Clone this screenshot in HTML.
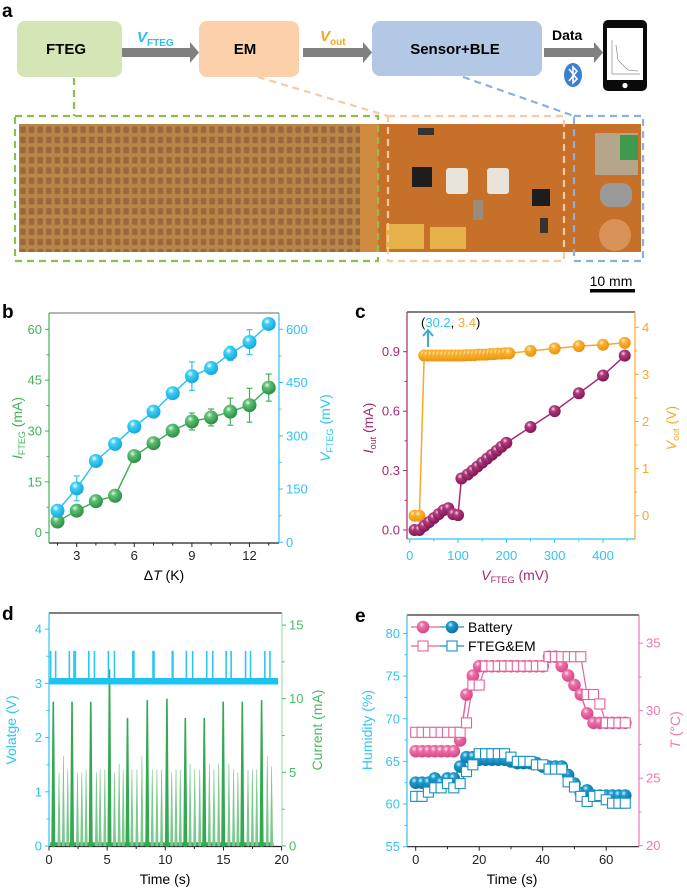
<!DOCTYPE html>
<html><head><meta charset="utf-8"><style>
html,body{margin:0;padding:0;background:#fff;}
svg{display:block;font-family:"Liberation Sans",Arial,sans-serif;}
</style></head><body>
<svg id="fig" width="687" height="892" viewBox="0 0 687 892">
<defs>
<radialGradient id="gGreen" cx="0.38" cy="0.32" r="0.7"><stop offset="0" stop-color="#e8f7ec"/><stop offset="0.3" stop-color="#5cc173"/><stop offset="1" stop-color="#2a8a42"/></radialGradient>
<radialGradient id="gCyan" cx="0.38" cy="0.32" r="0.7"><stop offset="0" stop-color="#ffffff"/><stop offset="0.3" stop-color="#3fd0f7"/><stop offset="1" stop-color="#12a6d8"/></radialGradient>
<radialGradient id="gPurple" cx="0.38" cy="0.32" r="0.7"><stop offset="0" stop-color="#f6d8e8"/><stop offset="0.3" stop-color="#b13a7d"/><stop offset="1" stop-color="#7e1650"/></radialGradient>
<radialGradient id="gOrange" cx="0.38" cy="0.32" r="0.7"><stop offset="0" stop-color="#fff3d6"/><stop offset="0.3" stop-color="#fbb232"/><stop offset="1" stop-color="#e8920c"/></radialGradient>
<radialGradient id="gPink" cx="0.38" cy="0.32" r="0.7"><stop offset="0" stop-color="#ffe6f1"/><stop offset="0.3" stop-color="#ee70a8"/><stop offset="1" stop-color="#d44485"/></radialGradient>
<radialGradient id="gBlue" cx="0.38" cy="0.32" r="0.7"><stop offset="0" stop-color="#d9f2fc"/><stop offset="0.3" stop-color="#1e9ccf"/><stop offset="1" stop-color="#0b6f9c"/></radialGradient>
<pattern id="cellPat" x="19" y="125" width="8.6" height="10.2" patternUnits="userSpaceOnUse">
<rect x="0" y="0" width="8.6" height="10.2" fill="#b8854a"/>
<rect x="1.2" y="1.5" width="5.5" height="6.5" rx="1" fill="#93603a"/>
</pattern>
</defs>

<g>
<text x="2" y="17" font-size="19" font-weight="bold">a</text>
<rect x="17" y="21" width="105" height="56" rx="8" fill="#d6e5b6"/>
<text x="66" y="54" font-size="15" font-weight="bold" text-anchor="middle">FTEG</text>
<rect x="199" y="21" width="100" height="56" rx="8" fill="#fcd0ab"/>
<text x="245" y="54" font-size="15" font-weight="bold" text-anchor="middle">EM</text>
<rect x="372" y="21" width="170" height="55" rx="8" fill="#b3c8e5"/>
<text x="455" y="54" font-size="15" font-weight="bold" text-anchor="middle">Sensor+BLE</text>
<g fill="#808080">
<rect x="122" y="48" width="70" height="9"/><polygon points="190,42 199,52.5 190,63"/>
<rect x="303" y="48" width="62" height="9"/><polygon points="363,42 372,52.5 363,63"/>
<rect x="544" y="48" width="52" height="9"/><polygon points="594,42 603,52.5 594,63"/>
</g>
<text x="137" y="42" font-size="15" font-style="italic" font-weight="bold" fill="#33bde9">V<tspan font-size="10" font-style="normal" dy="4">FTEG</tspan></text>
<text x="320" y="41" font-size="15" font-style="italic" font-weight="bold" fill="#f5a623">V<tspan font-size="10" font-style="normal" dy="4">out</tspan></text>
<text x="552" y="40" font-size="14" font-weight="bold">Data</text>
<ellipse cx="573" cy="75" rx="9" ry="12" fill="#3b7fd0"/>
<path d="M569,69 L577,79 L573,83 L573,67 L577,71 L569,81" stroke="#fff" stroke-width="1.6" fill="none"/>
<rect x="603" y="20" width="44" height="71" rx="5" fill="#0a0a0a"/>
<rect x="607" y="28" width="36" height="52" fill="#fff"/>
<circle cx="625" cy="85.5" r="2.6" fill="#fff"/>
<path d="M612,40 L612,74 L640,74 M616,45 L618,60 L628,70 L638,71" stroke="#889" stroke-width="0.7" fill="none"/>

<rect x="19" y="124" width="358" height="128" fill="url(#cellPat)"/>
<rect x="19" y="124" width="358" height="128" fill="#c08a48" opacity="0.2"/>
<rect x="360" y="124" width="20" height="128" fill="#d08a40"/>
<rect x="378" y="124" width="263" height="128" fill="#c7702a"/>
<g>
<rect x="412" y="167" width="20" height="20" fill="#1d1d1d"/>
<rect x="446" y="168" width="22" height="26" rx="3" fill="#e8e4dc"/>
<rect x="487" y="168" width="22" height="26" rx="3" fill="#e8e4dc"/>
<rect x="532" y="189" width="18" height="17" fill="#1d1d1d"/>
<rect x="386" y="224" width="38" height="25" fill="#e6b04a"/>
<rect x="430" y="227" width="36" height="22" fill="#e6b04a"/>
<rect x="595" y="133" width="43" height="42" fill="#b5a58a"/>
<rect x="620" y="135" width="18" height="25" fill="#3f9a50"/>
<rect x="600" y="183" width="32" height="24" rx="10" fill="#9a9a9a"/>
<circle cx="615" cy="235" r="16" fill="#d9925a"/>
<rect x="418" y="128" width="16" height="7" fill="#333"/>
<rect x="473" y="200" width="10" height="20" fill="#9b8b78"/>
<rect x="540" y="218" width="8" height="15" fill="#333"/>
</g>
<g fill="none" stroke-width="2.2" stroke-dasharray="7,5">
<rect x="15" y="116" width="363" height="145" stroke="#8cc04a"/>
<path d="M74,78 L74,116" stroke="#8cc04a"/>
<rect x="388" y="116" width="176" height="145" stroke="#f9c9a2"/>
<path d="M258,77 L388,116" stroke="#f9c9a2"/>
<rect x="574" y="116" width="69" height="145" stroke="#8cb0de"/>
<path d="M463,77 L574,116" stroke="#8cb0de"/>
</g>
<text x="611" y="286" font-size="14" text-anchor="middle">10 mm</text>
<rect x="590" y="289" width="45" height="3.5" fill="#000"/>
</g>

<g id="pb"></g>
<g id="pc"></g>
<g id="pd"></g>
<g id="pe"></g>
</svg>

<script>
// ---------- Panel b data ----------
const bDeltaT = [2,3,4,5,6,7,8,9,10,11,12,13];
const bVoltage = [89,152,229,277,326,368,420,468,491,532,564,615];
const bVoltageErr = [8,35,10,8,8,8,10,40,8,20,35,15];
const bCurrent = [3.3,6.5,9.3,10.9,22.6,26.4,30.1,32.8,34.0,35.7,37.6,42.8];
const bCurrentErr = [0.5,0.8,0.8,0.8,0.8,0.8,1.0,2.5,2.5,4.0,5.0,4.0];
const bXTicks = [3,6,9,12];
const bIticks = [0,15,30,45,60];
const bVticks = [0,150,300,450,600];
// ---------- Panel c data ----------
const cIx = [10,20,30,40,50,60,70,80,90,100,107,120,130,140,150,160,170,180,190,200,250,300,350,400,445];
const cIout = [0,0,0.02,0.04,0.06,0.08,0.10,0.11,0.08,0.075,0.26,0.28,0.30,0.32,0.34,0.36,0.38,0.40,0.42,0.44,0.52,0.60,0.69,0.78,0.88];
const cVx = [10,20,30,38,46,54,62,70,78,86,94,102,110,118,126,134,142,150,158,166,174,182,190,198,206,250,300,350,400,445];
const cVout = [0,0,3.4,3.4,3.4,3.4,3.4,3.4,3.4,3.4,3.4,3.4,3.4,3.41,3.41,3.41,3.42,3.42,3.42,3.43,3.43,3.44,3.44,3.45,3.45,3.5,3.55,3.6,3.63,3.67];
const cXTicks = [0,100,200,300,400];
const cIticks = [0,0.3,0.6,0.9];
const cIlabels = ["0.0","0.3","0.6","0.9"];
const cVticks = [0,1,2,3,4];
// ---------- Panel d data ----------
const dVSpikeT = [0.14,0.57,1.75,2.15,2.27,3.42,3.91,5.11,5.63,7.21,7.30,8.94,9.03,10.6,10.66,11.81,12.35,13.56,14.08,15.23,15.66,16.9,17.33,18.56,19.0];
const dVSpikeV = [3.6,3.6,3.6,3.6,3.6,3.6,3.6,3.6,3.6,3.6,3.6,3.6,3.6,3.6,3.6,3.6,3.6,3.6,3.6,3.6,3.6,3.6,3.6,3.6,3.6];
const dISpikeT = [0.37,0.86,1.24,1.61,1.98,2.45,2.82,3.19,3.59,4.08,4.39,4.80,5.20,5.63,6.03,6.38,6.75,7.13,7.56,7.99,8.45,8.88,9.28,9.68,10.14,10.55,10.92,11.29,11.72,12.13,12.53,12.96,13.35,13.79,14.18,14.59,14.98,15.47,15.87,16.24,16.62,17.11,17.49,17.86,18.28,18.77,19.14];
const dICurrent = [9.8,5.0,6.1,5.2,9.8,5.0,5.0,5.2,9.8,5.0,5.2,5.2,12.0,5.0,5.6,5.2,8.7,5.2,5.2,6.1,9.9,5.2,5.2,5.2,10.0,5.0,5.2,5.2,8.7,5.6,5.2,5.2,8.7,5.6,5.2,5.6,9.8,5.6,5.2,5.0,9.8,5.2,5.2,5.2,9.9,6.1,5.4];
const dXTicks = [0,5,10,15,20];
const dVticks = [0,1,2,3,4];
const dIticks = [0,5,10,15];
// ---------- Panel e data ----------
const eTime = [0,2,4,6,8,10,12,14,16,18,20,22,24,26,28,30,32,34,36,38,40,42,44,46,48,50,52,54,56,58,60,62,64,66];
const eTempBat = [27.0,27.0,27.0,27.0,27.0,27.0,27.0,27.8,31.2,32.6,33.3,33.3,33.3,33.3,33.3,33.3,33.3,33.3,33.3,33.3,33.3,34.0,34.0,33.3,32.6,31.9,31.2,29.8,29.1,29.1,29.1,29.1,29.1,29.1];
const eTempFteg = [28.4,28.4,28.4,28.4,28.4,28.4,28.4,28.4,29.1,31.9,31.9,33.3,33.3,33.3,33.3,33.3,33.3,33.3,33.3,33.3,33.3,34.0,34.0,34.0,34.0,34.0,34.0,31.2,31.2,30.5,29.1,29.1,29.1,29.1];
const eHumBat = [62.5,62.5,62.5,63.0,62.5,63.0,63.0,64.4,65.5,65.5,65.2,65.2,65.2,65.2,65.2,65.0,64.8,64.8,64.8,64.8,64.4,64.4,64.4,64.4,63.4,62.4,61.3,61.6,61.0,61.0,61.0,61.0,61.0,61.0];
const eHumFteg = [60.9,60.9,61.4,61.9,61.9,62.4,61.9,62.4,63.8,64.6,65.9,65.9,65.9,65.9,65.9,65.5,65.0,65.0,65.0,64.6,64.6,64.1,64.1,64.1,62.6,62.0,60.9,60.3,60.9,61.0,60.5,60.1,60.1,60.1];
const eXTicks = [0,20,40,60];
const eHticks = [55,60,65,70,75,80];
const eTticks = [20,25,30,35];

const NS = "http://www.w3.org/2000/svg";
function mk(parent, tag, attrs, txt){
  const el = document.createElementNS(NS, tag);
  for (const k in attrs) el.setAttribute(k, attrs[k]);
  if (txt !== undefined) el.textContent = txt;
  parent.appendChild(el);
  return el;
}
function line(p, x1,y1,x2,y2,c,w){ return mk(p,'line',{x1:x1,y1:y1,x2:x2,y2:y2,stroke:c,'stroke-width':w||1}); }

function frame(p, L,R,T,B, cl, cr, cb, ct){
  let e;
  e = line(p,L,T,R,T,ct,1.2);
  
  
  e = line(p,L,B,R,B,cb,1.2);
  
  
  e = line(p,L,T,L,B,cl,1.2);
  
  
  e = line(p,R,T,R,B,cr,1.2);
  
  
}
function ball(p, x, y, r, grad, name){
  const c = mk(p,'circle',{cx:x,cy:y,r:r,fill:'url(#'+grad+')'});
  
  
  return c;
}
function polyline(p, xs, ys, fx, fy, color, w, name){
  const pts = xs.map((v,i)=>fx(v).toFixed(1)+','+fy(ys[i]).toFixed(1)).join(' ');
  const pl = mk(p,'polyline',{points:pts,fill:'none',stroke:color,'stroke-width':w||1.5});
  
  
  return pl;
}
function ticksX(p, vals, labels, fx, B, color, lcolor, y){
  vals.forEach((v,i)=>{
    line(p,fx(v),B,fx(v),B+4,color,1);
    const t = mk(p,'text',{x:fx(v),y:y,'font-size':13,'text-anchor':'middle',fill:lcolor}, labels?labels[i]:String(v));
    
    
  });
}
function ticksY(p, vals, labels, fy, X, dir, color){
  vals.forEach((v,i)=>{
    line(p,X,fy(v),X+dir*4,fy(v),color,1);
    const t = mk(p,'text',{x:X+dir*7,y:fy(v)+4.5,'font-size':13,'text-anchor':dir<0?'end':'start',fill:color}, labels?labels[i]:String(v));
    
    
  });
}
function minorY(p, vals, fy, X, dir, color){
  for (let i=0;i<vals.length-1;i++){ const m=(vals[i]+vals[i+1])/2; line(p,X,fy(m),X+dir*2.5,fy(m),color,1); }
}
function vlabel(p, x, y, color, main, sub, rest, italic, name){
  const t = mk(p,'text',{x:x,y:y,'font-size':14,'text-anchor':'middle',fill:color,transform:'rotate(-90 '+x+' '+y+')'});
  
  
  const a = mk(t,'tspan',{'font-style':italic?'italic':'normal'}, main);
  if (sub){ mk(t,'tspan',{'font-size':9,dy:3}, sub); mk(t,'tspan',{dy:-3}, rest); }
  else a.textContent = main + rest;
  return t;
}

// ================= Panel b =================
(function(){
  const p = document.getElementById('pb');
  const L=49,R=279,T=313,B=543;
  const xb = t => 57.5 + (t-2)*19.2;
  const yI = v => 532.7 - v*3.39;
  const yV = v => 542.3 - v*0.355;
  const G='#45b05c', C='#2cc6f0';
  let lab = mk(p,'text',{x:2,y:318,'font-size':19,'font-weight':'bold'},'b');
  
  
  frame(p,L,R,T,B,G,C,'#222','#888');
  ticksY(p,bIticks,null,yI,L,-1,G); minorY(p,bIticks,yI,L,-1,G);
  ticksY(p,bVticks,null,yV,R,1,C); minorY(p,bVticks,yV,R,1,C);
  ticksX(p,bXTicks,null,xb,B,'#222','#222',560);
  [2,4,5,7,8,10,11,13].forEach(v=>line(p,xb(v),B,xb(v),B+2.5,'#222',1));
  vlabel(p,22,428,G,'I','FTEG',' (mA)',true,'left-y-axis-title');
  vlabel(p,330,428,C,'V','FTEG',' (mV)',true,'right-y-axis-title');
  const xt = mk(p,'text',{x:164,y:580,'font-size':14,'text-anchor':'middle'});
  
  
  mk(xt,'tspan',{},'Δ'); mk(xt,'tspan',{'font-style':'italic'},'T'); mk(xt,'tspan',{},' (K)');
  polyline(p,bDeltaT,bCurrent,xb,yI,G,1.5,'current-line');
  polyline(p,bDeltaT,bVoltage,xb,yV,C,1.5,'voltage-line');
  bDeltaT.forEach((t,i)=>{
    const x=xb(t);
    line(p,x,yI(bCurrent[i]-bCurrentErr[i]),x,yI(bCurrent[i]+bCurrentErr[i]),G,1.2);
    line(p,x-3,yI(bCurrent[i]+bCurrentErr[i]),x+3,yI(bCurrent[i]+bCurrentErr[i]),G,1.2);
    line(p,x-3,yI(bCurrent[i]-bCurrentErr[i]),x+3,yI(bCurrent[i]-bCurrentErr[i]),G,1.2);
    line(p,x,yV(bVoltage[i]-bVoltageErr[i]),x,yV(bVoltage[i]+bVoltageErr[i]),C,1.2);
    line(p,x-3,yV(bVoltage[i]+bVoltageErr[i]),x+3,yV(bVoltage[i]+bVoltageErr[i]),C,1.2);
    line(p,x-3,yV(bVoltage[i]-bVoltageErr[i]),x+3,yV(bVoltage[i]-bVoltageErr[i]),C,1.2);
  });
  bDeltaT.forEach((t,i)=>ball(p,xb(t),yI(bCurrent[i]),7,'gGreen','current-point'));
  bDeltaT.forEach((t,i)=>ball(p,xb(t),yV(bVoltage[i]),7,'gCyan','voltage-point'));
})();

// ================= Panel c =================
(function(){
  const p = document.getElementById('pc');
  const L=407,R=635,T=312,B=539;
  const xc = v => 409.7 + v*0.4833;
  const yI = v => 530 - v*198.1;
  const yV = v => 515.7 - v*47.1;
  const P='#a62a72', O='#f7a928', C='#2cc6f0';
  let lab = mk(p,'text',{x:355,y:318,'font-size':19,'font-weight':'bold'},'c');
  
  
  frame(p,L,R,T,B,P,O,C,'#333');
  ticksY(p,cIticks,cIlabels,yI,L,-1,P); minorY(p,cIticks,yI,L,-1,P);
  ticksY(p,cVticks,null,yV,R,1,O); minorY(p,cVticks,yV,R,1,O);
  ticksX(p,cXTicks,null,xc,B,C,C,560);
  [50,150,250,350,450].forEach(v=>line(p,xc(v),B,xc(v),B+2.5,C,1));
  vlabel(p,373,428,P,'I','out',' (mA)',true,'left-y-axis-title');
  vlabel(p,676,428,O,'V','out',' (V)',true,'right-y-axis-title');
  const xt = mk(p,'text',{x:515,y:580,'font-size':14,'text-anchor':'middle',fill:P});
  
  
  mk(xt,'tspan',{'font-style':'italic'},'V'); mk(xt,'tspan',{'font-size':9,dy:3},'FTEG'); mk(xt,'tspan',{dy:-3},' (mV)');
  const an = mk(p,'text',{x:421,y:327,'font-size':13});
  
  
  mk(an,'tspan',{},'('); mk(an,'tspan',{fill:C},'30.2'); mk(an,'tspan',{},', '); mk(an,'tspan',{fill:O},'3.4'); mk(an,'tspan',{},')');
  const ar = mk(p,'path',{d:'M428,347 L428,331 M423,336 L428,330 L433,336',stroke:'#3aaccd','stroke-width':2,fill:'none'});
  
  
  polyline(p,cVx,cVout,xc,yV,O,1.5,'vout-line');
  polyline(p,cIx,cIout,xc,yI,P,1.5,'iout-line');
  cVx.forEach((v,i)=>ball(p,xc(v),yV(cVout[i]),6,'gOrange','vout-point'));
  cIx.forEach((v,i)=>ball(p,xc(v),yI(cIout[i]),6,'gPurple','iout-point'));
})();

// ================= Panel d =================
(function(){
  const p = document.getElementById('pd');
  const L=49,R=282,T=613,B=846.5;
  const xd = t => 49 + t*11.63;
  const yV = v => 846 - v*54.2;
  const yI = v => 846 - v*14.73;
  const C='#2cc6f0', G='#4cb868';
  let lab = mk(p,'text',{x:2,y:620,'font-size':19,'font-weight':'bold'},'d');
  
  
  frame(p,L,R,T,B,C,'#a6dcb3','#222','#333');
  ticksY(p,dVticks,null,yV,L,-1,C); minorY(p,dVticks,yV,L,-1,C);
  ticksY(p,dIticks,null,yI,R,1,G); minorY(p,dIticks,yI,R,1,G);
  ticksX(p,dXTicks,null,xd,B,'#222','#222',864);
  [2.5,7.5,12.5,17.5].forEach(v=>line(p,xd(v),B,xd(v),B+2.5,'#222',1));
  vlabel(p,16,730,C,'Volatge (V)','', '',false,'left-y-axis-title');
  vlabel(p,322,730,G,'Current (mA)','', '',false,'right-y-axis-title');
  const xt = mk(p,'text',{x:165,y:884,'font-size':14,'text-anchor':'middle'},'Time (s)');
  
  
  const cb = mk(p,'rect',{x:xd(0.1),y:yI(0.25),width:xd(19.3)-xd(0.1),height:yI(0)-yI(0.25),fill:'#3aa85a'});
  
  
  dISpikeT.forEach((t,i)=>{
    const big = dICurrent[i] > 8;
    const s = mk(p,'path',{d:'M'+(xd(t)-1.2)+','+yI(0)+' L'+xd(t)+','+yI(dICurrent[i])+' L'+(xd(t)+1.2)+','+yI(0)+' Z',fill:big?'#34a853':'#7cc98e',stroke:big?'#34a853':'#7cc98e','stroke-width':big?1.6:0.6});
    
    
  });
  dVSpikeT.forEach((t,i)=>{
    const s = line(p,xd(t),yV(3.0),xd(t),yV(dVSpikeV[i]),C,1.6);
    
    
  });
  const vb = mk(p,'rect',{x:xd(0.05),y:yV(3.1),width:xd(19.7)-xd(0.05),height:yV(2.98)-yV(3.1),fill:'#1cc3f0'});
  
  
})();

// ================= Panel e =================
(function(){
  const p = document.getElementById('pe');
  const L=407,R=639,T=615,B=846.7;
  const xe = t => 415.7 + t*3.175;
  const yH = h => 846.7 - (h-55)*8.53;
  const yT = v => 845.7 - (v-20)*13.5;
  const C='#35c5ef', PK='#ec79b0', PL='#e9609e', BL='#1a90c4';
  let lab = mk(p,'text',{x:355,y:622,'font-size':19,'font-weight':'bold'},'e');
  
  
  frame(p,L,R,T,B,C,PK,'#222','#333');
  ticksY(p,eHticks,null,yH,L,-1,C); minorY(p,eHticks,yH,L,-1,C);
  ticksY(p,eTticks,null,yT,R,1,PK); minorY(p,eTticks,yT,R,1,PK);
  ticksX(p,eXTicks,null,xe,B,'#222','#222',864);
  [10,30,50].forEach(v=>line(p,xe(v),B,xe(v),B+2.5,'#222',1));
  vlabel(p,372,730,C,'Humidity (%)','', '',false,'left-y-axis-title');
  const rt = mk(p,'text',{x:680,y:730,'font-size':14,'text-anchor':'middle',fill:PK,transform:'rotate(-90 680 730)'});
  
  
  mk(rt,'tspan',{'font-style':'italic'},'T'); mk(rt,'tspan',{},' (°C)');
  const xt = mk(p,'text',{x:512,y:884,'font-size':14,'text-anchor':'middle'},'Time (s)');
  
  
  polyline(p,eTime,eTempFteg,xe,yT,PL,1.2,'temp-fteg-line');
  polyline(p,eTime,eTempBat,xe,yT,PL,1.5,'temp-battery-line');
  polyline(p,eTime,eHumFteg,xe,yH,BL,1.2,'humidity-fteg-line');
  polyline(p,eTime,eHumBat,xe,yH,BL,1.5,'humidity-battery-line');
  eTime.forEach((t,i)=>ball(p,xe(t),yT(eTempBat[i]),6.3,'gPink','temp-battery-point'));
  eTime.forEach((t,i)=>ball(p,xe(t),yH(eHumBat[i]),6.3,'gBlue','humidity-battery-point'));
  eTime.forEach((t,i)=>{
    const s = mk(p,'rect',{x:xe(t)-5,y:yT(eTempFteg[i])-5,width:10,height:10,fill:'#fff',stroke:PL,'stroke-width':1.1});
    
    
  });
  eTime.forEach((t,i)=>{
    const s = mk(p,'rect',{x:xe(t)-5,y:yH(eHumFteg[i])-5,width:10,height:10,fill:'#fff',stroke:BL,'stroke-width':1.1});
    
    
  });
  const lg = mk(p,'g',{});
  
  
  line(lg,411,627,440,627,PL,1.3); line(lg,440,627,464,627,BL,1.3);
  ball(lg,423,627,6.3,'gPink','legend-battery-temp-marker');
  ball(lg,452,627,6.3,'gBlue','legend-battery-humidity-marker');
  line(lg,411,646,440,646,PL,1.3); line(lg,440,646,464,646,BL,1.3);
  mk(lg,'rect',{x:418,y:641,width:10,height:10,fill:'#fff',stroke:PL,'stroke-width':1.1});
  mk(lg,'rect',{x:447,y:641,width:10,height:10,fill:'#fff',stroke:BL,'stroke-width':1.1});
  let t1 = mk(lg,'text',{x:468,y:632,'font-size':14},'Battery');
  
  
  let t2 = mk(lg,'text',{x:468,y:651,'font-size':14},'FTEG&EM');
  
  
})();
</script>
</body></html>
